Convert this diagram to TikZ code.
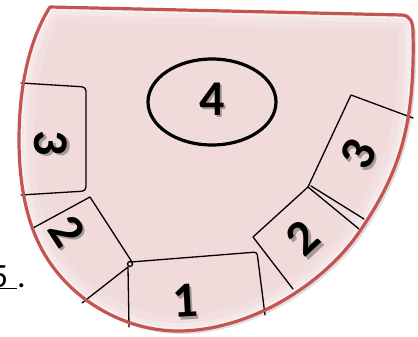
\documentclass[tikz,border=0pt]{standalone}
\usepackage{fontspec}
\newfontfamily\digitfont{Carlito}
\usetikzlibrary{calc}
\usetikzlibrary{shadows}
\definecolor{shapefill}{HTML}{F0DADA}
\definecolor{rimred}{HTML}{C45452}
\tikzstyle{sector}=[line width=1.3pt]
\tikzstyle{digit}=[font=\digitfont\bfseries\fontsize{50}{50}\selectfont,inner sep=0pt]
\newcommand{\shapepath}{(50,7) -- (402,15) .. controls (410,15.2) and (413,22) .. (413,32)
	.. controls (415,125) and (400,172) .. (360,231) .. controls (324,284) and (250,331) .. (178,331)
	.. controls (130,331) and (75,305) .. (45,255) .. controls (27,225) and (19,185) .. (19,140)
	.. controls (19,80) and (32,35) .. (50,7) -- cycle}
\newcommand{\numlabel}[4]{\node[digit,text=black,opacity=0.3,rotate=#3] (#1s) at ($#2+(2.5,2.5)$) {#4};
	\node[digit,rotate=#3] (#1) at #2 {#4};}

\begin{document}
\begin{tikzpicture}[x=1pt,y=-1pt,line cap=round,line join=round]
		\useasboundingbox (0,0) rectangle (418,337);
		
		\path[fill=shapefill,drop shadow={shadow xshift=3pt,shadow yshift=-3pt,opacity=0.25}] \shapepath;
		\begin{scope}
			\clip \shapepath;
			\draw[white,line width=30pt,opacity=0.15] \shapepath;
			\draw[white,line width=16pt,opacity=0.25] \shapepath;
			\draw[white,line width=7pt,opacity=0.4] \shapepath;
		\end{scope}
		
		\node[font=\digitfont\fontsize{34}{34}\selectfont,anchor=base east,inner sep=0pt] (mark) at (26,287) {\underline{5\hspace{9pt}}.};
		
		\draw[sector,rounded corners=4] (21,83) -- (86,87) -- (86,191) -- (21,195);
		\draw[sector] (33,228) -- (90,197) -- (132,262);
		\draw[sector] (128,267) -- (82,303);
		\draw[sector] (130,264) circle (2.5pt);
		\draw[sector] (128,267) -- (129,327);
		\draw[sector,rounded corners=3] (131,262) -- (257,252) -- (265,315);
		\draw[sector] (293,289) -- (253,237) -- (308,187);
		\draw[sector] (308,187) -- (359,229);
		\draw[sector] (311,186) -- (364,219);
		\draw[sector] (308,187) -- (351,95) -- (413,118);
		
		\draw[line width=3.2pt] (212,102) ellipse [x radius=64pt,y radius=43pt];
		
		\draw[rimred,line width=3.2pt] \shapepath;
		
		\numlabel{zone4}{(212,99)}{0}{4}
		\numlabel{zone1}{(185,301)}{3}{1}
		\numlabel{leftthree}{(51,143)}{-90}{3}
		\numlabel{lefttwo}{(67,231)}{-57}{2}
		\numlabel{righttwo}{(303,238)}{43}{2}
		\numlabel{rightthree}{(358,154)}{64}{3}
		
	\end{tikzpicture}
\end{document}
